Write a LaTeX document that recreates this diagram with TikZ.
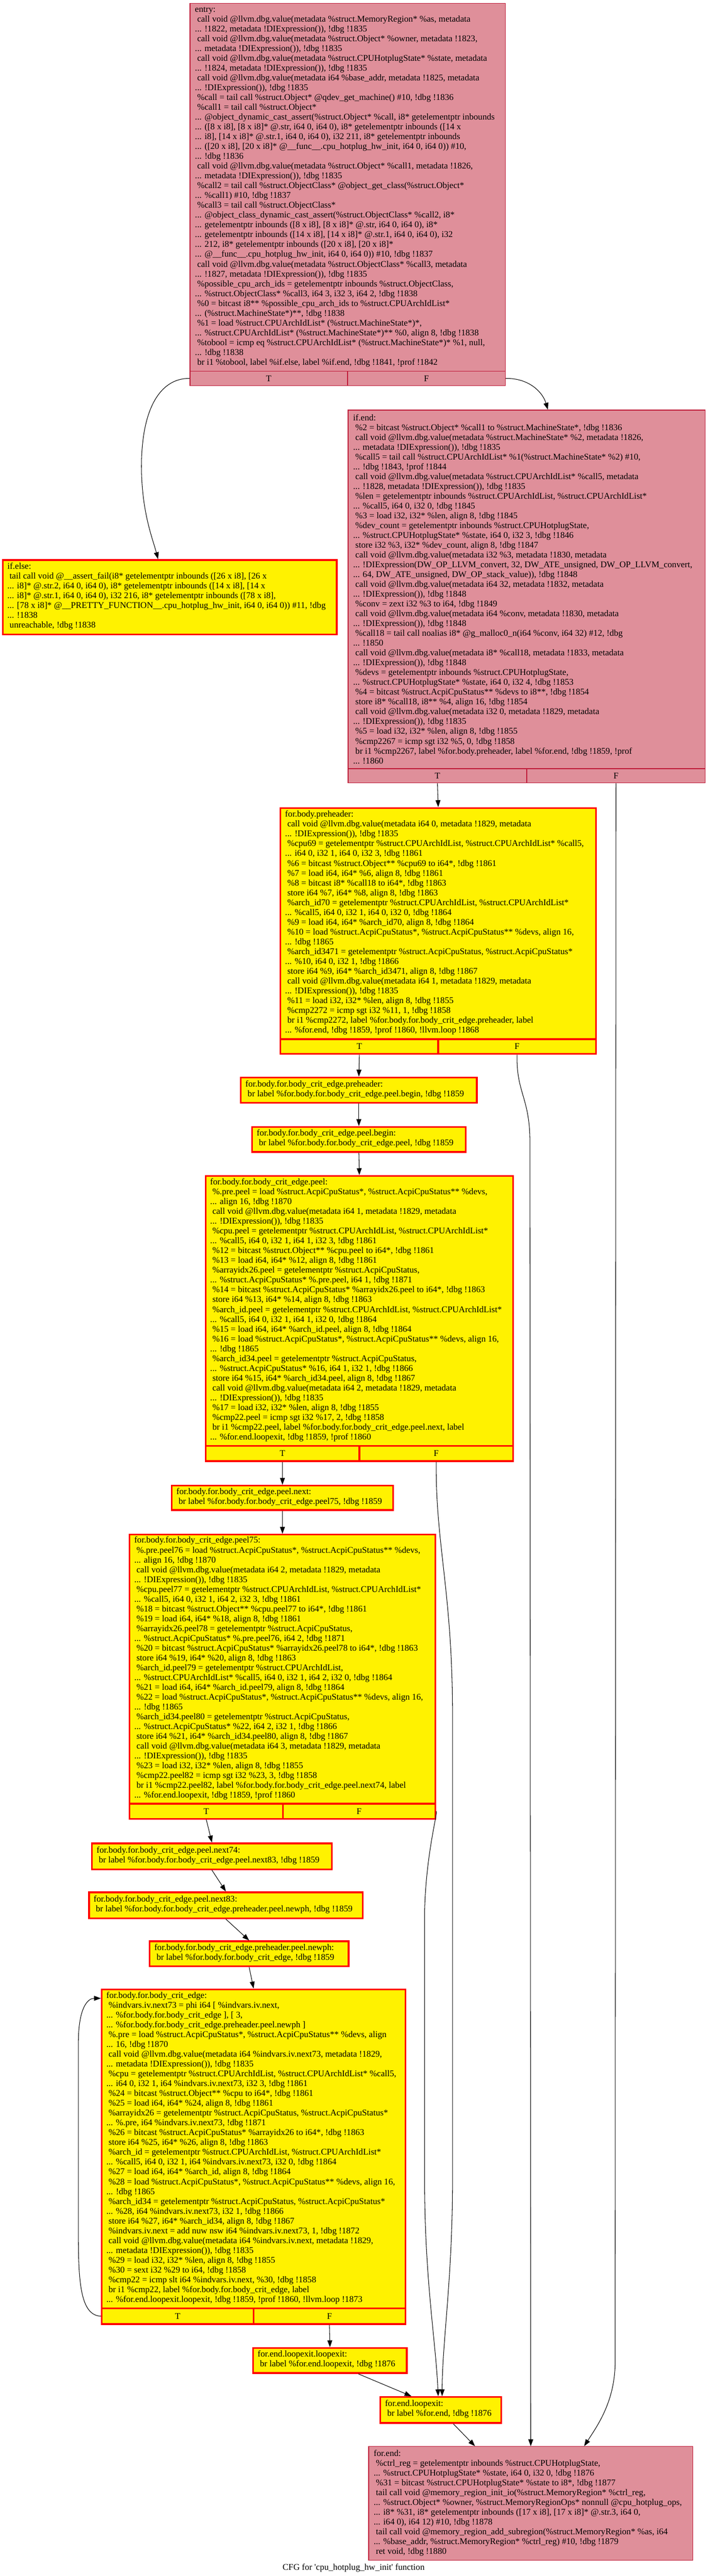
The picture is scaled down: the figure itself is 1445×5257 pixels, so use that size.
\documentclass[tikz,border=0pt]{standalone}
\usepackage{fontspec}
\setmainfont{Liberation Serif}
\usetikzlibrary{arrows.meta,calc}
\definecolor{pinkfill}{RGB}{223,143,154}
\definecolor{pinkline}{RGB}{190,25,55}
\newcommand\SP{\hspace*{4.5pt}}
\begin{document}
\begin{tikzpicture}[x=1pt,y=-1pt,
  pinkbox/.style={draw=pinkline, fill=pinkfill, line width=1.5pt, inner sep=0pt, anchor=north west},
  yelbox/.style={draw=red, fill=yellow, line width=3.5pt, inner sep=0pt, anchor=north west},
  txt/.style={anchor=west, align=left, inner sep=0pt},
  flow/.style={draw=black, line width=1.1pt, -{Triangle[length=14pt,width=10pt]}},
  font=\fontsize{18}{20}\selectfont]
\fill[white] (0,0) rectangle (1445,5257);
\useasboundingbox (0,0) rectangle (1445,5257);

% ---------- boxes ----------
\node[pinkbox, minimum width=644pt, minimum height=751pt] (entry) at (387,6) {};
\node[pinkbox, minimum width=322pt, minimum height=29pt] (entryT) at (387,757) {T};
\node[pinkbox, minimum width=322pt, minimum height=29pt] (entryF) at (709,757) {F};

\node[yelbox, minimum width=682pt, minimum height=152pt] (ifelse) at (4,1141) {};

\node[pinkbox, minimum width=729pt, minimum height=732pt] (ifend) at (710,836) {};
\node[pinkbox, minimum width=365pt, minimum height=29pt] (ifendT) at (710,1568) {T};
\node[pinkbox, minimum width=364pt, minimum height=29pt] (ifendF) at (1075,1568) {F};

\node[yelbox, minimum width=644pt, minimum height=472pt] (pre) at (571,1647) {};
\node[yelbox, minimum width=322pt, minimum height=30pt] (preT) at (571,2119) {T};
\node[yelbox, minimum width=322pt, minimum height=30pt] (preF) at (893,2119) {F};

\node[yelbox, minimum width=482pt, minimum height=52pt] (critpre) at (490,2197) {};
\node[yelbox, minimum width=436pt, minimum height=51pt] (peelbegin) at (513,2298) {};

\node[yelbox, minimum width=628pt, minimum height=551pt] (peel) at (418,2398) {};
\node[yelbox, minimum width=314pt, minimum height=31pt] (peelT) at (418,2949) {T};
\node[yelbox, minimum width=314pt, minimum height=31pt] (peelF) at (732,2949) {F};

\node[yelbox, minimum width=452pt, minimum height=50pt] (peelnext) at (349,3030) {};

\node[yelbox, minimum width=624pt, minimum height=549pt] (peelsf) at (263,3130) {};
\node[yelbox, minimum width=313pt, minimum height=31pt] (peelsfT) at (263,3679) {T};
\node[yelbox, minimum width=311pt, minimum height=31pt] (peelsfF) at (576,3679) {F};

\node[yelbox, minimum width=490pt, minimum height=53pt] (nextsf) at (186,3760) {};
\node[yelbox, minimum width=559pt, minimum height=53pt] (nexteh) at (180,3860) {};
\node[yelbox, minimum width=406pt, minimum height=51pt] (newph) at (304,3960) {};

\node[yelbox, minimum width=620pt, minimum height=651pt] (critedge) at (206,4058) {};
\node[yelbox, minimum width=310pt, minimum height=32pt] (critT) at (206,4709) {T};
\node[yelbox, minimum width=310pt, minimum height=32pt] (critF) at (516,4709) {F};

\node[yelbox, minimum width=314pt, minimum height=51pt] (lexlex) at (515,4790) {};
\node[yelbox, minimum width=247pt, minimum height=53pt] (lex) at (775,4890) {};

\node[pinkbox, minimum width=662pt, minimum height=232pt] (forend) at (752,4992) {};

% ---------- texts ----------
\node[txt] (entrytxt) at (398,381.5) {entry:\\
\SP call void @llvm.dbg.value(metadata \%struct.MemoryRegion* \%as, metadata\\
... !1822, metadata !DIExpression()), !dbg !1835\\
\SP call void @llvm.dbg.value(metadata \%struct.Object* \%owner, metadata !1823,\\
... metadata !DIExpression()), !dbg !1835\\
\SP call void @llvm.dbg.value(metadata \%struct.CPUHotplugState* \%state, metadata\\
... !1824, metadata !DIExpression()), !dbg !1835\\
\SP call void @llvm.dbg.value(metadata i64 \%base\_addr, metadata !1825, metadata\\
... !DIExpression()), !dbg !1835\\
\SP \%call = tail call \%struct.Object* @qdev\_get\_machine() \#10, !dbg !1836\\
\SP \%call1 = tail call \%struct.Object*\\
... @object\_dynamic\_cast\_assert(\%struct.Object* \%call, i8* getelementptr inbounds\\
... ([8 x i8], [8 x i8]* @.str, i64 0, i64 0), i8* getelementptr inbounds ([14 x\\
... i8], [14 x i8]* @.str.1, i64 0, i64 0), i32 211, i8* getelementptr inbounds\\
... ([20 x i8], [20 x i8]* @\_\_func\_\_.cpu\_hotplug\_hw\_init, i64 0, i64 0)) \#10,\\
... !dbg !1836\\
\SP call void @llvm.dbg.value(metadata \%struct.Object* \%call1, metadata !1826,\\
... metadata !DIExpression()), !dbg !1835\\
\SP \%call2 = tail call \%struct.ObjectClass* @object\_get\_class(\%struct.Object*\\
... \%call1) \#10, !dbg !1837\\
\SP \%call3 = tail call \%struct.ObjectClass*\\
... @object\_class\_dynamic\_cast\_assert(\%struct.ObjectClass* \%call2, i8*\\
... getelementptr inbounds ([8 x i8], [8 x i8]* @.str, i64 0, i64 0), i8*\\
... getelementptr inbounds ([14 x i8], [14 x i8]* @.str.1, i64 0, i64 0), i32\\
... 212, i8* getelementptr inbounds ([20 x i8], [20 x i8]*\\
... @\_\_func\_\_.cpu\_hotplug\_hw\_init, i64 0, i64 0)) \#10, !dbg !1837\\
\SP call void @llvm.dbg.value(metadata \%struct.ObjectClass* \%call3, metadata\\
... !1827, metadata !DIExpression()), !dbg !1835\\
\SP \%possible\_cpu\_arch\_ids = getelementptr inbounds \%struct.ObjectClass,\\
... \%struct.ObjectClass* \%call3, i64 3, i32 3, i64 2, !dbg !1838\\
\SP \%0 = bitcast i8** \%possible\_cpu\_arch\_ids to \%struct.CPUArchIdList*\\
... (\%struct.MachineState*)**, !dbg !1838\\
\SP \%1 = load \%struct.CPUArchIdList* (\%struct.MachineState*)*,\\
... \%struct.CPUArchIdList* (\%struct.MachineState*)** \%0, align 8, !dbg !1838\\
\SP \%tobool = icmp eq \%struct.CPUArchIdList* (\%struct.MachineState*)* \%1, null,\\
... !dbg !1838\\
\SP br i1 \%tobool, label \%if.else, label \%if.end, !dbg !1841, !prof !1842};

\node[txt] (ifelsetxt) at (15,1217) {if.else:\\
\SP tail call void @\_\_assert\_fail(i8* getelementptr inbounds ([26 x i8], [26 x\\
... i8]* @.str.2, i64 0, i64 0), i8* getelementptr inbounds ([14 x i8], [14 x\\
... i8]* @.str.1, i64 0, i64 0), i32 216, i8* getelementptr inbounds ([78 x i8],\\
... [78 x i8]* @\_\_PRETTY\_FUNCTION\_\_.cpu\_hotplug\_hw\_init, i64 0, i64 0)) \#11, !dbg\\
... !1838\\
\SP unreachable, !dbg !1838};

\node[txt] (ifendtxt) at (721,1202) {if.end:\\
\SP \%2 = bitcast \%struct.Object* \%call1 to \%struct.MachineState*, !dbg !1836\\
\SP call void @llvm.dbg.value(metadata \%struct.MachineState* \%2, metadata !1826,\\
... metadata !DIExpression()), !dbg !1835\\
\SP \%call5 = tail call \%struct.CPUArchIdList* \%1(\%struct.MachineState* \%2) \#10,\\
... !dbg !1843, !prof !1844\\
\SP call void @llvm.dbg.value(metadata \%struct.CPUArchIdList* \%call5, metadata\\
... !1828, metadata !DIExpression()), !dbg !1835\\
\SP \%len = getelementptr inbounds \%struct.CPUArchIdList, \%struct.CPUArchIdList*\\
... \%call5, i64 0, i32 0, !dbg !1845\\
\SP \%3 = load i32, i32* \%len, align 8, !dbg !1845\\
\SP \%dev\_count = getelementptr inbounds \%struct.CPUHotplugState,\\
... \%struct.CPUHotplugState* \%state, i64 0, i32 3, !dbg !1846\\
\SP store i32 \%3, i32* \%dev\_count, align 8, !dbg !1847\\
\SP call void @llvm.dbg.value(metadata i32 \%3, metadata !1830, metadata\\
... !DIExpression(DW\_OP\_LLVM\_convert, 32, DW\_ATE\_unsigned, DW\_OP\_LLVM\_convert,\\
... 64, DW\_ATE\_unsigned, DW\_OP\_stack\_value)), !dbg !1848\\
\SP call void @llvm.dbg.value(metadata i64 32, metadata !1832, metadata\\
... !DIExpression()), !dbg !1848\\
\SP \%conv = zext i32 \%3 to i64, !dbg !1849\\
\SP call void @llvm.dbg.value(metadata i64 \%conv, metadata !1830, metadata\\
... !DIExpression()), !dbg !1848\\
\SP \%call18 = tail call noalias i8* @g\_malloc0\_n(i64 \%conv, i64 32) \#12, !dbg\\
... !1850\\
\SP call void @llvm.dbg.value(metadata i8* \%call18, metadata !1833, metadata\\
... !DIExpression()), !dbg !1848\\
\SP \%devs = getelementptr inbounds \%struct.CPUHotplugState,\\
... \%struct.CPUHotplugState* \%state, i64 0, i32 4, !dbg !1853\\
\SP \%4 = bitcast \%struct.AcpiCpuStatus** \%devs to i8**, !dbg !1854\\
\SP store i8* \%call18, i8** \%4, align 16, !dbg !1854\\
\SP call void @llvm.dbg.value(metadata i32 0, metadata !1829, metadata\\
... !DIExpression()), !dbg !1835\\
\SP \%5 = load i32, i32* \%len, align 8, !dbg !1855\\
\SP \%cmp2267 = icmp sgt i32 \%5, 0, !dbg !1858\\
\SP br i1 \%cmp2267, label \%for.body.preheader, label \%for.end, !dbg !1859, !prof\\
... !1860};

\node[txt] (pretxt) at (582,1883) {for.body.preheader:\\
\SP call void @llvm.dbg.value(metadata i64 0, metadata !1829, metadata\\
... !DIExpression()), !dbg !1835\\
\SP \%cpu69 = getelementptr \%struct.CPUArchIdList, \%struct.CPUArchIdList* \%call5,\\
... i64 0, i32 1, i64 0, i32 3, !dbg !1861\\
\SP \%6 = bitcast \%struct.Object** \%cpu69 to i64*, !dbg !1861\\
\SP \%7 = load i64, i64* \%6, align 8, !dbg !1861\\
\SP \%8 = bitcast i8* \%call18 to i64*, !dbg !1863\\
\SP store i64 \%7, i64* \%8, align 8, !dbg !1863\\
\SP \%arch\_id70 = getelementptr \%struct.CPUArchIdList, \%struct.CPUArchIdList*\\
... \%call5, i64 0, i32 1, i64 0, i32 0, !dbg !1864\\
\SP \%9 = load i64, i64* \%arch\_id70, align 8, !dbg !1864\\
\SP \%10 = load \%struct.AcpiCpuStatus*, \%struct.AcpiCpuStatus** \%devs, align 16,\\
... !dbg !1865\\
\SP \%arch\_id3471 = getelementptr \%struct.AcpiCpuStatus, \%struct.AcpiCpuStatus*\\
... \%10, i64 0, i32 1, !dbg !1866\\
\SP store i64 \%9, i64* \%arch\_id3471, align 8, !dbg !1867\\
\SP call void @llvm.dbg.value(metadata i64 1, metadata !1829, metadata\\
... !DIExpression()), !dbg !1835\\
\SP \%11 = load i32, i32* \%len, align 8, !dbg !1855\\
\SP \%cmp2272 = icmp sgt i32 \%11, 1, !dbg !1858\\
\SP br i1 \%cmp2272, label \%for.body.for.body\_crit\_edge.preheader, label\\
... \%for.end, !dbg !1859, !prof !1860, !llvm.loop !1868};

\node[txt] (critpretxt) at (501,2223) {for.body.for.body\_crit\_edge.preheader:\\
\SP br label \%for.body.for.body\_crit\_edge.peel.begin, !dbg !1859};

\node[txt] (peelbegintxt) at (524,2323.5) {for.body.for.body\_crit\_edge.peel.begin:\\
\SP br label \%for.body.for.body\_crit\_edge.peel, !dbg !1859};

\node[txt] (peeltxt) at (429,2673.5) {for.body.for.body\_crit\_edge.peel:\\
\SP \%.pre.peel = load \%struct.AcpiCpuStatus*, \%struct.AcpiCpuStatus** \%devs,\\
... align 16, !dbg !1870\\
\SP call void @llvm.dbg.value(metadata i64 1, metadata !1829, metadata\\
... !DIExpression()), !dbg !1835\\
\SP \%cpu.peel = getelementptr \%struct.CPUArchIdList, \%struct.CPUArchIdList*\\
... \%call5, i64 0, i32 1, i64 1, i32 3, !dbg !1861\\
\SP \%12 = bitcast \%struct.Object** \%cpu.peel to i64*, !dbg !1861\\
\SP \%13 = load i64, i64* \%12, align 8, !dbg !1861\\
\SP \%arrayidx26.peel = getelementptr \%struct.AcpiCpuStatus,\\
... \%struct.AcpiCpuStatus* \%.pre.peel, i64 1, !dbg !1871\\
\SP \%14 = bitcast \%struct.AcpiCpuStatus* \%arrayidx26.peel to i64*, !dbg !1863\\
\SP store i64 \%13, i64* \%14, align 8, !dbg !1863\\
\SP \%arch\_id.peel = getelementptr \%struct.CPUArchIdList, \%struct.CPUArchIdList*\\
... \%call5, i64 0, i32 1, i64 1, i32 0, !dbg !1864\\
\SP \%15 = load i64, i64* \%arch\_id.peel, align 8, !dbg !1864\\
\SP \%16 = load \%struct.AcpiCpuStatus*, \%struct.AcpiCpuStatus** \%devs, align 16,\\
... !dbg !1865\\
\SP \%arch\_id34.peel = getelementptr \%struct.AcpiCpuStatus,\\
... \%struct.AcpiCpuStatus* \%16, i64 1, i32 1, !dbg !1866\\
\SP store i64 \%15, i64* \%arch\_id34.peel, align 8, !dbg !1867\\
\SP call void @llvm.dbg.value(metadata i64 2, metadata !1829, metadata\\
... !DIExpression()), !dbg !1835\\
\SP \%17 = load i32, i32* \%len, align 8, !dbg !1855\\
\SP \%cmp22.peel = icmp sgt i32 \%17, 2, !dbg !1858\\
\SP br i1 \%cmp22.peel, label \%for.body.for.body\_crit\_edge.peel.next, label\\
... \%for.end.loopexit, !dbg !1859, !prof !1860};

\node[txt] (peelnexttxt) at (360,3055) {for.body.for.body\_crit\_edge.peel.next:\\
\SP br label \%for.body.for.body\_crit\_edge.peel75, !dbg !1859};

\node[txt] (peelsftxt) at (274,3404.5) {for.body.for.body\_crit\_edge.peel75:\\
\SP \%.pre.peel76 = load \%struct.AcpiCpuStatus*, \%struct.AcpiCpuStatus** \%devs,\\
... align 16, !dbg !1870\\
\SP call void @llvm.dbg.value(metadata i64 2, metadata !1829, metadata\\
... !DIExpression()), !dbg !1835\\
\SP \%cpu.peel77 = getelementptr \%struct.CPUArchIdList, \%struct.CPUArchIdList*\\
... \%call5, i64 0, i32 1, i64 2, i32 3, !dbg !1861\\
\SP \%18 = bitcast \%struct.Object** \%cpu.peel77 to i64*, !dbg !1861\\
\SP \%19 = load i64, i64* \%18, align 8, !dbg !1861\\
\SP \%arrayidx26.peel78 = getelementptr \%struct.AcpiCpuStatus,\\
... \%struct.AcpiCpuStatus* \%.pre.peel76, i64 2, !dbg !1871\\
\SP \%20 = bitcast \%struct.AcpiCpuStatus* \%arrayidx26.peel78 to i64*, !dbg !1863\\
\SP store i64 \%19, i64* \%20, align 8, !dbg !1863\\
\SP \%arch\_id.peel79 = getelementptr \%struct.CPUArchIdList,\\
... \%struct.CPUArchIdList* \%call5, i64 0, i32 1, i64 2, i32 0, !dbg !1864\\
\SP \%21 = load i64, i64* \%arch\_id.peel79, align 8, !dbg !1864\\
\SP \%22 = load \%struct.AcpiCpuStatus*, \%struct.AcpiCpuStatus** \%devs, align 16,\\
... !dbg !1865\\
\SP \%arch\_id34.peel80 = getelementptr \%struct.AcpiCpuStatus,\\
... \%struct.AcpiCpuStatus* \%22, i64 2, i32 1, !dbg !1866\\
\SP store i64 \%21, i64* \%arch\_id34.peel80, align 8, !dbg !1867\\
\SP call void @llvm.dbg.value(metadata i64 3, metadata !1829, metadata\\
... !DIExpression()), !dbg !1835\\
\SP \%23 = load i32, i32* \%len, align 8, !dbg !1855\\
\SP \%cmp22.peel82 = icmp sgt i32 \%23, 3, !dbg !1858\\
\SP br i1 \%cmp22.peel82, label \%for.body.for.body\_crit\_edge.peel.next74, label\\
... \%for.end.loopexit, !dbg !1859, !prof !1860};

\node[txt] (nextsftxt) at (197,3786.5) {for.body.for.body\_crit\_edge.peel.next74:\\
\SP br label \%for.body.for.body\_crit\_edge.peel.next83, !dbg !1859};

\node[txt] (nextehtxt) at (191,3886.5) {for.body.for.body\_crit\_edge.peel.next83:\\
\SP br label \%for.body.for.body\_crit\_edge.preheader.peel.newph, !dbg !1859};

\node[txt] (newphtxt) at (315,3985.5) {for.body.for.body\_crit\_edge.preheader.peel.newph:\\
\SP br label \%for.body.for.body\_crit\_edge, !dbg !1859};

\node[txt] (critedgetxt) at (217,4383.5) {for.body.for.body\_crit\_edge:\\
\SP \%indvars.iv.next73 = phi i64 [ \%indvars.iv.next,\\
... \%for.body.for.body\_crit\_edge ], [ 3,\\
... \%for.body.for.body\_crit\_edge.preheader.peel.newph ]\\
\SP \%.pre = load \%struct.AcpiCpuStatus*, \%struct.AcpiCpuStatus** \%devs, align\\
... 16, !dbg !1870\\
\SP call void @llvm.dbg.value(metadata i64 \%indvars.iv.next73, metadata !1829,\\
... metadata !DIExpression()), !dbg !1835\\
\SP \%cpu = getelementptr \%struct.CPUArchIdList, \%struct.CPUArchIdList* \%call5,\\
... i64 0, i32 1, i64 \%indvars.iv.next73, i32 3, !dbg !1861\\
\SP \%24 = bitcast \%struct.Object** \%cpu to i64*, !dbg !1861\\
\SP \%25 = load i64, i64* \%24, align 8, !dbg !1861\\
\SP \%arrayidx26 = getelementptr \%struct.AcpiCpuStatus, \%struct.AcpiCpuStatus*\\
... \%.pre, i64 \%indvars.iv.next73, !dbg !1871\\
\SP \%26 = bitcast \%struct.AcpiCpuStatus* \%arrayidx26 to i64*, !dbg !1863\\
\SP store i64 \%25, i64* \%26, align 8, !dbg !1863\\
\SP \%arch\_id = getelementptr \%struct.CPUArchIdList, \%struct.CPUArchIdList*\\
... \%call5, i64 0, i32 1, i64 \%indvars.iv.next73, i32 0, !dbg !1864\\
\SP \%27 = load i64, i64* \%arch\_id, align 8, !dbg !1864\\
\SP \%28 = load \%struct.AcpiCpuStatus*, \%struct.AcpiCpuStatus** \%devs, align 16,\\
... !dbg !1865\\
\SP \%arch\_id34 = getelementptr \%struct.AcpiCpuStatus, \%struct.AcpiCpuStatus*\\
... \%28, i64 \%indvars.iv.next73, i32 1, !dbg !1866\\
\SP store i64 \%27, i64* \%arch\_id34, align 8, !dbg !1867\\
\SP \%indvars.iv.next = add nuw nsw i64 \%indvars.iv.next73, 1, !dbg !1872\\
\SP call void @llvm.dbg.value(metadata i64 \%indvars.iv.next, metadata !1829,\\
... metadata !DIExpression()), !dbg !1835\\
\SP \%29 = load i32, i32* \%len, align 8, !dbg !1855\\
\SP \%30 = sext i32 \%29 to i64, !dbg !1858\\
\SP \%cmp22 = icmp slt i64 \%indvars.iv.next, \%30, !dbg !1858\\
\SP br i1 \%cmp22, label \%for.body.for.body\_crit\_edge, label\\
... \%for.end.loopexit.loopexit, !dbg !1859, !prof !1860, !llvm.loop !1873};

\node[txt] (lexlextxt) at (526,4815.5) {for.end.loopexit.loopexit:\\
\SP br label \%for.end.loopexit, !dbg !1876};

\node[txt] (lextxt) at (786,4916.5) {for.end.loopexit:\\
\SP br label \%for.end, !dbg !1876};

\node[txt] (forendtxt) at (763,5108) {for.end:\\
\SP \%ctrl\_reg = getelementptr inbounds \%struct.CPUHotplugState,\\
... \%struct.CPUHotplugState* \%state, i64 0, i32 0, !dbg !1876\\
\SP \%31 = bitcast \%struct.CPUHotplugState* \%state to i8*, !dbg !1877\\
\SP tail call void @memory\_region\_init\_io(\%struct.MemoryRegion* \%ctrl\_reg,\\
... \%struct.Object* \%owner, \%struct.MemoryRegionOps* nonnull @cpu\_hotplug\_ops,\\
... i8* \%31, i8* getelementptr inbounds ([17 x i8], [17 x i8]* @.str.3, i64 0,\\
... i64 0), i64 12) \#10, !dbg !1878\\
\SP tail call void @memory\_region\_add\_subregion(\%struct.MemoryRegion* \%as, i64\\
... \%base\_addr, \%struct.MemoryRegion* \%ctrl\_reg) \#10, !dbg !1879\\
\SP ret void, !dbg !1880};

\node (caption) at (722,5240) {CFG for \textquotesingle cpu\_hotplug\_hw\_init\textquotesingle{} function};

% ---------- edges ----------
\draw[flow] (entryT.west) .. controls (335,771.5) and (292,820) .. (289,940)
   .. controls (287,1040) and (312,1100) .. ($(ifelse.north)+(-24,0)$);
\draw[flow] (entryF.east) .. controls (1080,771.5) and (1108,800) .. ($(ifend.north)+(43.5,0)$);
\draw[flow] (ifendT.south) -- (pre.north);
\draw[flow] (ifendF.south) -- (1256,4820) .. controls (1256,4900) and (1220,4950) .. ($(forend.north)+(109,0)$);
\draw[flow] (preT.south) -- (critpre.north);
\draw[flow] (preF.south) .. controls (1054,2230) and (1082,2240) .. (1082,2330) -- (forend.north);
\draw[flow] (critpre.south) -- (peelbegin.north);
\draw[flow] (peelbegin.south) -- (peel.north);
\draw[flow] (peelT.south) -- (peelnext.north);
\draw[flow] (peelF.south) .. controls (889,3150) and (924,3250) .. (924,3500) -- (924,4450)
   .. controls (924,4650) and (903,4780) .. ($(lex.north)+(2.5,0)$);
\draw[flow] (peelnext.south) -- (peelsf.north);
\draw[flow] (peelsfT.south) -- (nextsf.north);
\draw[flow] (peelsfF.east) .. controls (895,3697) and (870,3780) .. (867,3900) -- (867,4450)
   .. controls (867,4650) and (890,4780) .. ($(lex.north)+(-5.5,0)$);
\draw[flow] (nextsf.south) -- (nexteh.north);
\draw[flow] (nexteh.south) -- (newph.north);
\draw[flow] (newph.south) -- (critedge.north);
\draw[flow] (critT.west) .. controls (165,4725) and (160,4660) .. (160,4560) -- (160,4170)
   .. controls (160,4095) and (180,4078) .. ($(critedge.north west)+(0,20)$);
\draw[flow] (critF.south) -- (lexlex.north);
\draw[flow] ($(lexlex.south)+(58,0)$) -- ($(lex.north west)+(65,0)$);
\draw[flow] ($(lex.south)+(25.5,0)$) -- ($(forend.north west)+(218,0)$);
\end{tikzpicture}
\end{document}
